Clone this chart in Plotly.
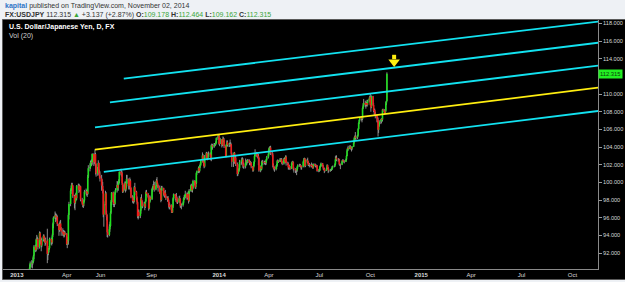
import pandas as pd
import plotly.graph_objects as go

# ---------------- data (USD/JPY daily) ----------------
first_open = 89.80
closes_txt = """
89.55 88.65 88.60 90.35 90.85
90.80 90.95 91.05 91.70 92.75
92.35 93.55 93.60 93.50 92.65
94.25 93.45 93.45 92.85 93.50
93.95 93.60 93.55 93.15 93.40
91.90 92.10 92.35 92.55 93.60
93.45 93.20 94.00 95.30 96.00
96.25 96.05 96.10 96.10 95.30
94.60 95.15 95.35 94.80 94.45
94.20 94.35 94.00 94.30 94.20
93.00 93.35 93.40 96.30 97.55
99.05 99.35 99.75 99.65 98.45
97.65 97.85 98.60 98.20 99.60
99.65 99.15 99.30 99.55 98.05
97.60 97.40 97.65 97.95 98.95
99.00 98.90 98.70 100.65 101.60
101.75 102.25 102.30 102.25 103.20
102.30 102.60 103.20 102.05 101.00
101.50 102.20 101.05 100.75 100.45
99.65 99.60 99.00 96.35 97.55
98.75 96.45 96.10 94.35 94.05
94.70 95.05 96.55 97.80 98.85
97.75 97.55 97.55 98.85 99.15
99.70 99.35 99.85 100.20 101.20
101.00 101.05 99.90 98.95 99.20
99.90 99.20 99.55 100.40 100.35
99.60 99.65 100.20 99.35 98.30
97.90 98.00 97.85 99.45 98.95
98.20 97.75 96.15 96.65 96.20
96.80 98.20 97.90 97.30 97.55
97.60 97.25 97.85 98.90 98.70
98.35 97.05 97.75 98.30 98.10
99.25 99.25 99.55 99.70 99.20
99.65 100.20 99.90 99.65 99.40
98.85 99.10 98.00 99.40 99.35
98.75 98.55 98.85 98.45 98.20
98.25 98.00 97.50 97.20 97.45
96.85 96.60 97.25 98.20 98.65
98.45 98.15 98.25 97.75 97.75
98.20 98.15 97.35 97.40 97.40
97.70 98.20 98.30 98.35 98.70
98.25 98.60 98.70 97.90 99.05
99.65 99.60 99.10 99.35 100.15
100.00 99.45 99.90 101.05 101.25
101.65 101.30 101.85 102.00 102.45
103.05 102.35 102.20 101.80 102.90
103.30 102.75 102.75 103.20 103.25
103.15 102.65 104.20 104.20 104.05
104.25 104.30 104.30 104.45 105.00
105.15 105.30 104.35 104.80 104.85
104.25 104.70 104.95 104.80 104.10
102.95 104.25 104.55 104.25 104.25
104.35 104.35 104.30 103.25 102.35
102.75 103.35 102.35 102.80 102.05
100.95 101.15 101.35 101.60 102.30
102.35 102.60 102.60 102.05 101.80
101.85 102.35 102.30 102.30 102.50
102.40 102.20 102.25 102.20 101.80
101.35 101.85 102.30 103.00 103.30
103.30 102.95 103.00 102.75 101.35
101.80 101.55 102.35 102.35 102.25
102.30 102.20 102.20 102.55 102.85
103.20 103.80 103.90 103.95 103.30
103.15 101.95 101.80 101.60 101.50
101.80 101.95 102.45 102.40 102.35
102.60 102.55 102.60 102.30 102.15
102.65 102.55 102.35 102.90 102.20
102.10 101.70 101.85 101.70 101.55
102.15 102.35 102.25 101.55 101.50
101.35 101.35 101.35 101.75 101.95
101.95 101.95 101.85 101.70 101.80
102.35 102.55 102.70 101.85 102.40
102.50 102.30 102.00 102.05 102.00
101.85 101.95 101.85 101.65 102.05
101.90 101.95 101.85 101.90 101.30
101.35 101.35 101.80 101.85 102.15
101.90 101.60 101.55 101.30 101.35
101.60 101.95 101.60 101.40 101.35
101.40 101.45 101.45 101.70 101.80
101.80 102.05 102.60 102.80 102.60
102.60 102.60 102.05 102.05 102.00
102.40 102.50 102.40 102.35 102.35
102.60 103.00 103.60 103.90 103.80
104.05 103.90 103.85 103.80 104.05
104.50 105.00 105.20 105.05 105.10
105.30 106.05 106.75 107.05 107.35
107.20 107.20 108.40 108.70 109.00
108.80 108.85 109.00 108.75 109.25
109.45 109.65 108.80 108.50 109.75
108.75 108.10 108.20 107.80 107.60
107.25 106.95 105.95 106.40 106.90
106.90 107.20 107.10 108.25 108.15
107.85 108.10 108.95 109.18 112.315
"""
highs_txt = """
90.20 90.00 89.00 90.70 91.05
91.20 91.10 91.50 91.80 92.90
92.95 93.65 94.05 93.85 93.70
94.45 94.40 93.85 93.60 93.75
94.10 94.10 93.90 93.65 93.75
94.75 92.40 92.55 92.80 93.75
93.75 93.65 94.20 95.45 96.15
96.70 96.50 96.45 96.35 96.25
95.35 95.45 95.65 95.75 94.95
94.80 94.60 94.60 94.50 94.45
94.25 93.55 93.85 96.50 97.80
99.20 99.65 99.95 99.95 99.70
98.60 98.05 98.75 98.85 99.70
99.85 99.85 99.75 99.65 99.60
98.25 98.00 97.90 98.10 99.15
99.30 99.15 99.05 100.85 101.95
102.15 102.45 102.55 102.60 103.30
103.30 102.80 103.75 103.35 102.15
101.75 102.50 102.25 101.45 101.25
100.85 100.35 100.05 99.20 97.85
99.05 98.90 96.80 96.35 95.00
95.25 95.55 96.75 98.00 98.90
98.95 97.95 98.10 98.95 99.35
100.15 100.10 100.05 100.35 101.25
101.55 101.35 101.25 99.95 99.75
100.10 100.10 99.85 100.85 100.85
100.45 99.85 100.55 100.35 99.45
98.55 98.25 98.40 99.60 99.95
99.05 98.40 97.85 96.95 96.90
96.95 98.35 98.65 98.00 97.80
97.80 97.75 98.15 99.10 99.15
98.80 98.40 98.05 98.55 98.40
99.40 99.55 99.80 100.20 100.05
100.10 100.40 100.60 100.05 99.75
99.65 99.30 99.25 99.60 99.60
99.40 99.00 98.95 99.15 98.65
98.40 98.45 98.15 97.80 97.60
97.50 97.05 97.40 98.30 98.75
98.70 98.60 98.80 98.40 98.05
98.45 98.50 98.20 97.70 97.60
97.85 98.30 98.55 98.55 99.05
98.85 98.80 98.95 99.05 99.25
99.75 99.85 99.70 99.55 100.30
100.25 100.10 100.20 101.15 101.35
101.80 101.75 102.00 102.25 102.55
103.40 103.20 102.60 102.40 103.10
103.45 103.45 103.05 103.35 103.50
103.40 103.25 104.30 104.40 104.35
104.45 104.45 104.40 104.65 105.10
105.40 105.40 105.45 105.00 105.05
104.90 104.85 105.20 105.10 105.00
104.15 104.35 104.75 104.75 104.45
104.50 104.85 104.55 104.40 103.40
102.90 103.40 103.45 103.05 103.05
102.25 101.30 101.55 102.05 102.55
102.55 102.80 102.85 102.75 102.25
102.15 102.70 102.50 102.45 102.65
102.65 102.55 102.45 102.40 102.30
101.85 102.10 102.40 103.10 103.75
103.45 103.40 103.25 103.20 102.85
101.90 101.90 102.45 102.55 102.50
102.45 102.45 102.40 102.65 103.00
103.45 103.95 104.05 104.10 104.15
103.45 103.35 102.15 101.85 101.75
101.95 102.10 102.55 102.60 102.50
102.75 102.70 102.75 102.75 102.40
102.75 102.80 102.85 103.05 103.05
102.35 102.25 102.05 101.95 101.85
102.25 102.40 102.45 102.35 101.70
101.60 101.55 101.45 101.85 102.05
102.10 102.10 102.05 101.95 101.85
102.45 102.75 102.80 102.75 102.55
102.65 102.80 102.40 102.20 102.20
102.10 102.25 102.10 101.95 102.15
102.15 102.10 102.00 102.00 101.95
101.50 101.60 101.90 102.10 102.25
102.20 101.95 101.75 101.65 101.45
101.70 102.05 102.00 101.75 101.55
101.50 101.55 101.60 101.85 101.90
101.95 102.15 102.95 103.05 103.05
102.70 102.75 102.65 102.20 102.10
102.50 102.60 102.60 102.55 102.50
102.70 103.10 103.75 103.95 104.15
104.20 104.20 104.05 103.95 104.10
104.55 105.15 105.30 105.70 105.30
105.40 106.15 106.80 107.15 107.40
107.45 107.35 108.50 108.95 109.45
109.25 109.00 109.10 109.35 109.35
109.60 109.80 110.09 109.05 109.85
109.80 109.00 108.35 108.35 108.00
107.70 107.40 107.35 106.50 107.05
107.15 107.25 107.30 108.30 108.35
108.30 108.20 109.15 109.25 112.464
"""
lows_txt = """
89.00 88.45 88.05 88.45 90.10
90.35 90.25 90.70 90.90 91.30
92.10 92.20 93.10 92.85 92.40
92.50 93.10 93.00 92.20 92.65
93.30 93.40 93.20 92.80 92.95
90.85 91.20 91.75 92.05 92.40
92.95 92.85 93.05 93.80 94.80
95.85 95.50 95.65 95.80 95.05
93.95 94.40 94.75 94.60 93.95
93.95 93.90 93.75 93.85 94.05
92.90 92.55 92.95 92.95 95.80
97.30 98.70 99.05 99.10 98.25
97.05 96.85 97.60 97.95 98.00
99.30 98.80 98.95 98.95 97.85
97.45 97.20 97.10 97.30 97.80
98.65 98.50 98.35 98.60 100.50
101.25 101.55 101.90 101.85 102.00
101.85 102.05 102.40 100.90 100.65
100.75 101.35 100.85 100.45 100.10
99.05 99.20 98.75 96.05 94.98
97.40 96.30 95.70 93.80 93.75
93.90 94.40 94.95 96.40 97.40
97.45 97.20 97.20 97.45 98.60
98.85 99.10 99.05 99.70 99.90
100.80 100.65 99.70 98.80 98.85
99.05 98.85 99.00 99.35 99.85
99.20 99.20 99.40 98.95 98.20
97.70 97.60 97.60 97.75 98.55
97.95 97.50 95.95 95.80 95.95
95.95 96.45 97.65 97.05 97.10
97.25 96.85 97.10 97.75 98.50
98.20 96.80 96.95 97.65 97.85
98.00 98.95 99.15 99.45 98.95
99.10 99.55 99.75 99.40 98.95
98.70 98.65 97.75 97.90 99.05
98.50 98.35 98.25 98.30 98.00
97.80 97.85 97.15 96.95 96.95
96.55 96.55 96.55 97.10 97.90
98.05 97.80 98.00 97.60 97.55
97.65 97.80 97.15 97.10 96.95
97.25 97.50 98.00 98.05 98.20
98.05 98.05 98.35 97.60 97.80
98.95 99.30 98.90 98.85 99.25
99.65 99.30 99.25 99.80 100.85
101.05 101.05 101.15 101.65 101.85
102.30 102.20 101.85 101.60 101.70
102.75 102.60 102.50 102.60 102.95
102.85 102.50 102.40 103.85 103.70
103.90 104.05 104.10 104.20 104.40
104.80 104.90 104.25 104.10 104.35
103.95 104.10 104.55 104.55 103.90
102.85 102.85 104.15 104.10 104.00
104.00 104.20 104.05 103.05 101.75
101.75 102.60 102.10 102.25 101.85
100.70 100.75 100.95 101.20 101.35
101.95 102.10 102.35 101.65 101.55
101.55 101.65 102.00 101.95 102.15
102.20 101.95 101.95 101.95 101.60
101.20 101.25 101.70 102.10 102.90
102.90 102.80 102.70 101.95 101.20
101.15 101.35 101.40 102.10 101.95
102.05 102.00 101.95 102.00 102.40
102.70 103.05 103.60 103.70 103.10
102.95 101.70 101.55 101.35 101.20
101.35 101.50 101.80 102.20 102.20
102.30 102.30 102.30 102.10 101.95
102.00 102.40 102.15 102.25 101.90
101.95 101.45 101.45 101.50 101.40
101.50 101.95 101.95 101.35 101.10
101.05 101.15 100.82 101.20 101.55
101.80 101.75 101.70 101.45 101.45
101.70 102.25 102.40 101.70 101.75
102.25 102.15 101.85 101.85 101.70
101.70 101.75 101.65 101.55 101.55
101.80 101.75 101.65 101.70 101.20
101.15 101.20 101.30 101.65 101.75
101.80 101.45 101.40 101.05 101.20
101.30 101.50 101.50 101.05 101.15
101.20 101.30 101.30 101.40 101.60
101.70 101.75 101.95 102.55 102.40
102.35 102.45 101.95 101.85 101.50
101.95 102.25 102.30 102.25 102.15
102.30 102.50 102.95 103.50 103.60
103.75 103.80 103.70 103.50 103.65
104.00 104.40 104.75 104.90 104.70
104.90 105.20 105.95 106.60 106.90
107.00 106.80 107.05 108.30 108.55
108.55 108.35 108.65 108.55 108.70
109.05 109.30 108.70 108.00 108.40
108.65 107.95 107.65 107.60 107.25
106.80 106.80 105.20 105.60 106.30
106.60 106.70 106.90 106.90 107.95
107.70 107.75 107.95 108.75 109.162
"""
closes = [float(v) for v in closes_txt.split()]
highs = [float(v) for v in highs_txt.split()]
lows = [float(v) for v in lows_txt.split()]
dates = pd.bdate_range("2013-01-21", periods=len(closes))
opens = [first_open] + closes[:-1]

# drawn channel lines (start/end in date, price)
line_start_dates = ["2013-07-13", "2013-06-18", "2013-05-22", "2013-05-22", "2013-06-07"]
line_start_prices = [111.75, 109.06, 106.23, 103.70, 101.20]
line_end_dates = ["2015-12-31"] * 5
line_end_prices = [118.55, 116.16, 113.56, 111.07, 108.43]
line_kinds = ["cyan", "cyan", "cyan", "yellow", "cyan"]

arrow_date = ["2014-11-13"]
arrow_stem = [114.45, 113.95]
arrow_head = [113.62]

last_close = 112.315

x_tickvals = ["2013-01-01", "2013-04-01", "2013-06-01", "2013-09-01", "2014-01-01", "2014-04-01",
              "2014-07-01", "2014-10-01", "2015-01-01", "2015-04-01", "2015-07-01", "2015-10-01"]
x_ticktext = ["<b>2013</b>", "Apr", "Jun", "Sep", "<b>2014</b>", "Apr", "Jul", "Oct",
              "<b>2015</b>", "Apr", "Jul", "Oct"]
y_tickvals = [92, 94, 96, 98, 100, 102, 104, 106, 108, 110, 114, 116, 118]

# ---------------- figure ----------------
W, H = 625, 282
ML, MR, MT, MB = 3, 27, 20, 13
PW, PH = W - ML - MR, H - MT - MB


def px(x):
    return (x - ML) / PW


def py(y):
    return (H - MB - y) / PH


GREEN = "#1fe01f"
RED = "#f01a1a"
CYAN = "#12e2f0"
YELLOW = "#ffee10"

fig = go.Figure()

# wicks
wx, wy = [], []
for d, hi, lo in zip(dates, highs, lows):
    wx += [d, d, None]
    wy += [lo, hi, None]
fig.add_trace(go.Scatter(x=wx, y=wy, mode="lines", line=dict(color="#9a9a9a", width=0.9),
                         hoverinfo="skip"))

# bodies
for up, col in ((True, GREEN), (False, RED)):
    bx, by = [], []
    for d, o, c in zip(dates, opens, closes):
        if (c >= o) == up:
            bx += [d, d, None]
            by += [o, c, None]
    fig.add_trace(go.Scatter(x=bx, y=by, mode="lines", line=dict(color=col, width=1.6),
                             hoverinfo="skip"))

# channel lines
for sd, sp, ed, ep, k in zip(line_start_dates, line_start_prices, line_end_dates,
                             line_end_prices, line_kinds):
    fig.add_trace(go.Scatter(x=[sd, ed], y=[sp, ep], mode="lines",
                             line=dict(color=CYAN if k == "cyan" else YELLOW, width=1.8),
                             hoverinfo="skip"))

# arrow
fig.add_trace(go.Scatter(x=arrow_date * 2, y=arrow_stem, mode="lines",
                         line=dict(color=YELLOW, width=4), hoverinfo="skip"))
fig.add_trace(go.Scatter(x=arrow_date, y=arrow_head, mode="markers",
                         marker=dict(symbol="triangle-down", size=10, color=YELLOW),
                         hoverinfo="skip"))

FONT = "Liberation Sans, Arial, sans-serif"
TXTG = "#3aa63a"

fig.update_layout(
    width=W, height=H,
    margin=dict(l=ML, r=MR, t=MT, b=MB, pad=0),
    paper_bgcolor="#eef1f5",
    plot_bgcolor="#000000",
    showlegend=False,
    font=dict(family=FONT),
    xaxis=dict(type="date", range=["2012-12-07", "2015-11-16"],
               tickvals=x_tickvals, ticktext=x_ticktext, ticks="",
               tickfont=dict(size=6, color="#d8d8d8", family=FONT),
               showgrid=False, zeroline=False, showline=True, linecolor="#8a8a8a",
               linewidth=1),
    yaxis=dict(range=[90.19, 118.39], side="right", tickvals=y_tickvals, tickformat=".3f",
               ticks="outside", ticklen=3, tickcolor="#9a9a9a",
               tickfont=dict(size=5.6, color="#d8d8d8", family=FONT),
               showgrid=False, zeroline=False, showline=True, linecolor="#8a8a8a",
               linewidth=1),
    shapes=[dict(type="rect", xref="paper", yref="paper", x0=px(2.5), x1=px(625.5),
                 y0=py(279.5), y1=py(19.5), fillcolor="#000000",
                 line=dict(color="#5a5a5a", width=1), layer="below")],
)

header = ("<span style='color:#2f74c6'><b>kapital</b></span> published on TradingView.com, November 02, 2014<br>"
          "<b>FX:USDJPY</b> 112.315 <span style='color:%s'>▲</span> +3.137 (+2.87%%) "
          "<b>O:</b><span style='color:%s'>109.178</span> "
          "<b>H:</b><span style='color:%s'>112.464</span> "
          "<b>L:</b><span style='color:%s'>109.162</span> "
          "<b>C:</b><span style='color:%s'>112.315</span>") % (TXTG, TXTG, TXTG, TXTG, TXTG)

ann = []
ann.append(dict(xref="paper", yref="paper", x=px(2.5), y=py(10.8), xanchor="left", yanchor="middle",
                align="left", showarrow=False, font=dict(size=7.0, color="#333333", family=FONT),
                text=header))
ann.append(dict(xref="paper", yref="paper", x=px(6.5), y=py(31.8), xanchor="left", yanchor="middle",
                align="left", showarrow=False, font=dict(size=7.0, color="#d0d0d0", family=FONT),
                text="<span style='color:#ffffff'><b>U.S. Dollar/Japanese Yen, D, FX</b></span><br>Vol (20)"))
ann.append(dict(xref="paper", yref="y", x=px(597.5), y=last_close, xanchor="left", yanchor="middle",
                showarrow=False, font=dict(size=5.8, color="#0b3b0b", family=FONT),
                text="112.315", bgcolor="#22ee22", borderpad=1))
fig.update_layout(annotations=ann)

fig.write_html("out.html")
